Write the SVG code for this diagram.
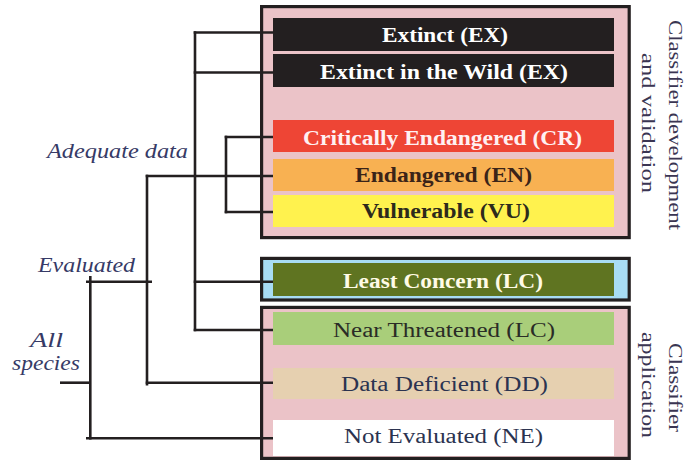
<svg xmlns="http://www.w3.org/2000/svg" width="689" height="461" viewBox="0 0 689 461">
<style>
.box{stroke:#231F20;stroke-width:3.2}
.bar{stroke:none}
.bt{font-family:"Liberation Serif",serif;font-size:20px;font-weight:bold}
.bn{font-family:"Liberation Serif",serif;font-size:20px;font-weight:normal}
.lbl{font-family:"Liberation Serif",serif;font-size:20px;font-style:italic;fill:#363a66}
.side{font-family:"Liberation Serif",serif;font-size:19px;fill:#3a3552}
.conn line{stroke:#231F20;stroke-width:2.6;stroke-linecap:butt}
</style>
<rect width="689" height="461" fill="#ffffff"/>
<g id="group-assessment">
<rect class="box" x="261.6" y="6.6" width="367.6" height="231" fill="#EBC3C8"/>
</g>
<g id="group-lc">
<rect class="box" x="261.6" y="258.4" width="367.6" height="41.6" fill="#A8DCF4"/>
</g>
<g id="group-application">
<rect class="box" x="261.6" y="307.4" width="367.6" height="151" fill="#EBC3C8"/>
</g>
<g id="conn" class="conn">
<line x1="195" y1="31.2" x2="195" y2="331.3"/>
<line x1="193.7" y1="32.5" x2="273" y2="32.5"/>
<line x1="193.7" y1="72.5" x2="273" y2="72.5"/>
<line x1="193.7" y1="281.7" x2="273" y2="281.7"/>
<line x1="193.7" y1="330" x2="273" y2="330"/>
<line x1="226" y1="135.7" x2="226" y2="213.3"/>
<line x1="224.7" y1="137" x2="273" y2="137"/>
<line x1="224.7" y1="212" x2="273" y2="212"/>
<line x1="147" y1="174.7" x2="147" y2="385.5"/>
<line x1="145.7" y1="176" x2="273" y2="176"/>
<line x1="145.7" y1="382.7" x2="273" y2="382.7"/>
<line x1="86" y1="281.7" x2="152" y2="281.7"/>
<line x1="90.3" y1="276" x2="90.3" y2="439.6"/>
<line x1="60" y1="382.7" x2="90.3" y2="382.7"/>
<line x1="86" y1="438.3" x2="273" y2="438.3"/>
</g>
<g id="node-ex">
<rect class="bar" x="273" y="18" width="341" height="33" fill="#231F20"/>
<text class="bt" x="382" y="42" textLength="126" lengthAdjust="spacingAndGlyphs" fill="#ffffff">Extinct (EX)</text>
</g>
<g id="node-ew">
<rect class="bar" x="273" y="54" width="341" height="33" fill="#231F20"/>
<text class="bt" x="320" y="79" textLength="248" lengthAdjust="spacingAndGlyphs" fill="#ffffff">Extinct in the Wild (EX)</text>
</g>
<g id="node-cr">
<rect class="bar" x="273" y="120" width="341" height="32" fill="#EE4535"/>
<text class="bt" x="303" y="145" textLength="279" lengthAdjust="spacingAndGlyphs" fill="#FFF0F2">Critically Endangered (CR)</text>
</g>
<g id="node-en">
<rect class="bar" x="273" y="159" width="341" height="32" fill="#F8B152"/>
<text class="bt" x="355" y="182" textLength="177" lengthAdjust="spacingAndGlyphs" fill="#3B2418">Endangered (EN)</text>
</g>
<g id="node-vu">
<rect class="bar" x="273" y="195" width="341" height="32" fill="#FFF24E"/>
<text class="bt" x="362" y="218" textLength="168" lengthAdjust="spacingAndGlyphs" fill="#2C2A1C">Vulnerable (VU)</text>
</g>
<g id="node-lc">
<rect class="bar" x="273" y="263" width="341" height="33" fill="#5F7421"/>
<text class="bt" x="343" y="288" textLength="200" lengthAdjust="spacingAndGlyphs" fill="#FFFBE6">Least Concern (LC)</text>
</g>
<g id="node-nt">
<rect class="bar" x="273" y="312" width="341" height="33" fill="#A9CE7A"/>
<text class="bn" x="333" y="337" textLength="222" lengthAdjust="spacingAndGlyphs" fill="#2A2C26">Near Threatened (LC)</text>
</g>
<g id="node-dd">
<rect class="bar" x="273" y="368" width="341" height="31" fill="#E6D0B0"/>
<text class="bn" x="341" y="391" textLength="207" lengthAdjust="spacingAndGlyphs" fill="#2B3350">Data Deficient (DD)</text>
</g>
<g id="node-ne">
<rect class="bar" x="273" y="420" width="341" height="36" fill="#FFFFFF"/>
<text class="bn" x="344" y="443" textLength="199" lengthAdjust="spacingAndGlyphs" fill="#2B3350">Not Evaluated (NE)</text>
</g>
<g id="labels">
<text class="lbl" x="47" y="158" textLength="141" lengthAdjust="spacingAndGlyphs">Adequate data</text>
<text class="lbl" x="38" y="272" textLength="97" lengthAdjust="spacingAndGlyphs">Evaluated</text>
<text class="lbl" x="30" y="347" textLength="33" lengthAdjust="spacingAndGlyphs">All</text>
<text class="lbl" x="12" y="370" textLength="68" lengthAdjust="spacingAndGlyphs">species</text>
</g>
<g id="side-labels">
<text class="side" transform="translate(669,20) rotate(90)" textLength="210" lengthAdjust="spacingAndGlyphs">Classifier development</text>
<text class="side" transform="translate(642,53) rotate(90)" textLength="140" lengthAdjust="spacingAndGlyphs">and validation</text>
<text class="side" transform="translate(669,343) rotate(90)" textLength="89" lengthAdjust="spacingAndGlyphs">Classifier</text>
<text class="side" transform="translate(642,332) rotate(90)" textLength="106" lengthAdjust="spacingAndGlyphs">application</text>
</g>
</svg>
